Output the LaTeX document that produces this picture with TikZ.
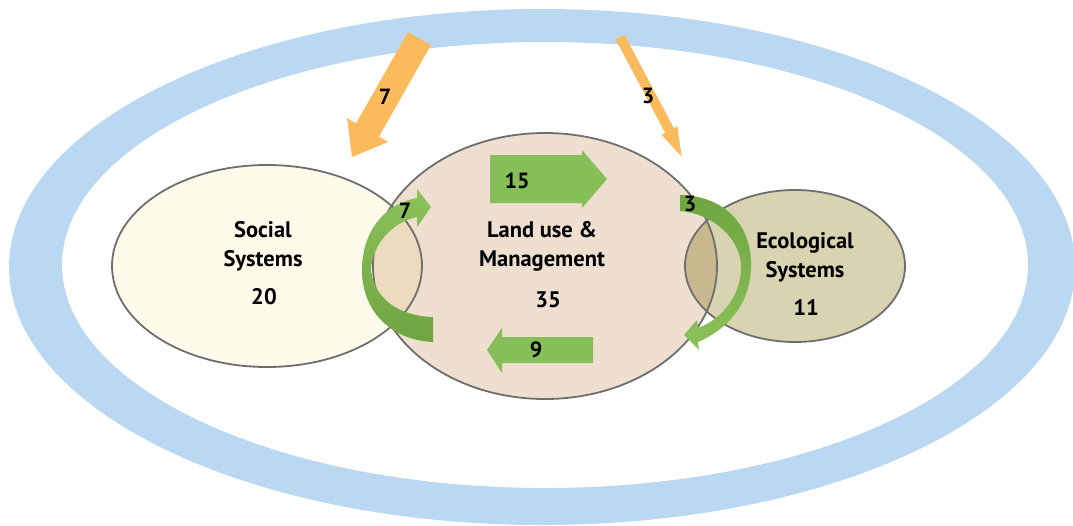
\documentclass[tikz,border=0pt]{standalone}
\usepackage{fontspec}
\setmainfont{PT Sans}
\definecolor{ringblue}{HTML}{BAD8F2}
\definecolor{socfill}{HTML}{FEFBEA}
\definecolor{landfill}{HTML}{EEDFD0}
\definecolor{ecofill}{HTML}{D8D3B0}
\definecolor{lensA}{HTML}{EDDBBF}
\definecolor{lensB}{HTML}{C8B88E}
\definecolor{edgegray}{HTML}{6E6E6E}
\definecolor{orangearr}{HTML}{FBBB5C}
\definecolor{greenlt}{HTML}{8CC25A}
\definecolor{greendk}{HTML}{6EA540}
\definecolor{greenblk}{HTML}{86BE57}
\tikzset{
  lbl/.style={font=\bfseries\fontsize{22.5}{29}\selectfont, align=center, inner sep=0pt},
  numlbl/.style={font=\bfseries\fontsize{22}{26}\selectfont, inner sep=0pt},
  outline/.style={draw=edgegray, line width=1.8pt},
}
\begin{document}
\begin{tikzpicture}[x=1pt,y=-1pt]
\useasboundingbox (0,0) rectangle (1073,525);
% outer ring
\begin{scope}
\clip (0,0) rectangle (1073,525);
\fill[ringblue, even odd rule] (542,267) ellipse [x radius=533, y radius=258]
  (545,265) ellipse [x radius=483, y radius=223];
\end{scope}
% ellipses fills
\fill[socfill] (267,266) ellipse [x radius=155, y radius=101];
\fill[landfill] (545,266) ellipse [x radius=172, y radius=133];
\fill[ecofill] (795,266) ellipse [x radius=110, y radius=76];
\begin{scope}
\clip (267,266) ellipse [x radius=155, y radius=101];
\fill[lensA] (545,266) ellipse [x radius=172, y radius=133];
\end{scope}
\begin{scope}
\clip (795,266) ellipse [x radius=110, y radius=76];
\fill[lensB] (545,266) ellipse [x radius=172, y radius=133];
\end{scope}
\draw[outline] (267,266) ellipse [x radius=155, y radius=101];
\draw[outline] (545,266) ellipse [x radius=172, y radius=133];
\draw[outline] (795,266) ellipse [x radius=110, y radius=76];
% orange arrows
\fill[orangearr] (408,32) -- (356,123.5) -- (347,118) -- (352,157) -- (388,142) -- (379,136.5) -- (431,45) -- cycle;
\fill[orangearr] (615.6,39.3) -- (665.1,132.8) -- (661.7,135) -- (681.7,156.7) -- (677.4,126.4) -- (673.9,128.2) -- (624.4,34.7) -- cycle;
% green block arrows
\fill[greenblk] (490,155) -- (582,155) -- (582,150) -- (607,179) -- (582,208) -- (582,203) -- (490,203) -- cycle;
\fill[greenblk] (593,337) -- (502,337) -- (502,328) -- (487,350) -- (502,373) -- (502,363) -- (593,363) -- cycle;
% curved green arrows
\shade[top color=greenlt, bottom color=greendk]
  (433,317) -- (433,342)
  .. controls (390,340) and (361,310) .. (362,268)
  .. controls (363,230) and (385,204) .. (417,198)
  -- (417,189) -- (431,207) -- (417,227) -- (417,217)
  .. controls (392,222) and (372,245) .. (371,270)
  .. controls (374,298) and (398,316) .. (433,317) -- cycle;
\shade[top color=greendk, bottom color=greenlt]
  (680,195) -- (680,211)
  .. controls (715,214) and (740,240) .. (741,265)
  .. controls (742,292) and (725,318) .. (698,328)
  -- (697,320) -- (684,335) -- (699,350) -- (698,342)
  .. controls (735,326) and (752,296) .. (751,262)
  .. controls (750,225) and (725,196) .. (680,195) -- cycle;
% labels
\node[lbl] (soc) at (263,246) {Social\\Systems};
\node[lbl] (socn) at (264,297) {20};
\node[lbl] (land) at (542,246) {Land use \&\\Management};
\node[lbl] (landn) at (548,300) {35};
\node[lbl] (eco) at (805,257) {Ecological\\Systems};
\node[lbl] (econ) at (806,307) {11};
\node[numlbl] (o7) at (385,97) {7};
\node[numlbl] (o3) at (648,96) {3};
\node[numlbl] (g15) at (517,181) {15};
\node[numlbl] (g9) at (536,350) {9};
\node[numlbl] (g7) at (405,211) {7};
\node[numlbl] (g3) at (690,204) {3};
\end{tikzpicture}
\end{document}
